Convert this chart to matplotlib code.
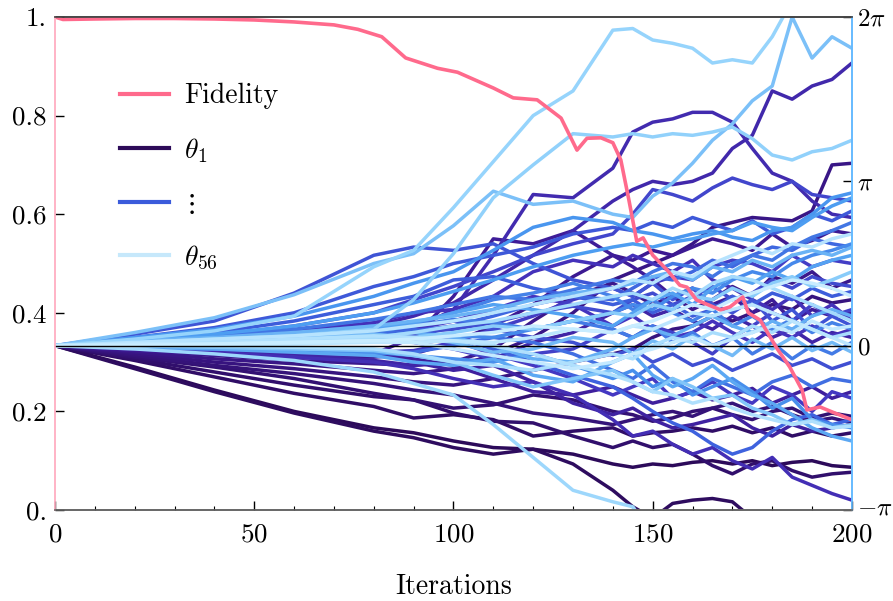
import numpy as np
import matplotlib
matplotlib.use("Agg")
import matplotlib.pyplot as plt
from matplotlib.colors import LinearSegmentedColormap
from matplotlib.lines import Line2D
from matplotlib.transforms import ScaledTranslation

plt.rcParams['font.family'] = 'serif'
plt.rcParams['font.serif'] = ['cmr10', 'DejaVu Serif']
plt.rcParams['mathtext.fontset'] = 'cm'
plt.rcParams['axes.unicode_minus'] = False
plt.rcParams['axes.formatter.use_mathtext'] = True

# fidelity curve (left axis)
fid_iter = [0, 2, 10, 20, 30, 40, 50, 60, 70, 76, 82, 88, 96, 101, 110, 115, 121, 127, 131, 133.5,
            137, 140, 142, 144, 146, 147.6, 150, 153.6, 156.8, 158.6, 161, 167, 169.4, 172.6, 174,
            177, 181, 184.4, 187.5, 188.7, 192, 195, 200]
fid = [1.0, 0.995, 0.996, 0.997, 0.997, 0.996, 0.994, 0.99, 0.984, 0.975, 0.96, 0.917, 0.896, 0.888,
       0.856, 0.836, 0.832, 0.795, 0.73, 0.754, 0.755, 0.745, 0.71, 0.63, 0.545, 0.552, 0.517, 0.487,
       0.456, 0.452, 0.426, 0.406, 0.412, 0.432, 0.40, 0.385, 0.33, 0.29, 0.243, 0.203, 0.209, 0.199, 0.183]

# parameters theta_k, read in units of pi (right axis)
iters = [0, 20, 40, 60, 80, 90, 100, 110, 120, 130, 140, 145, 150, 155, 160, 165, 170, 175, 180, 185, 190, 195, 200]
th01 = [0, -0.13, -0.27, -0.40, -0.50, -0.53, -0.58, -0.62, -0.63, -0.66, -0.72, -0.74, -0.72, -0.73, -0.71, -0.70, -0.72, -0.70, -0.73, -0.71, -0.70, -0.73, -0.74]
th02 = [0, -0.14, -0.28, -0.41, -0.52, -0.56, -0.62, -0.66, -0.63, -0.72, -0.88, -0.98, -1.05, -0.96, -0.94, -0.93, -0.95, -1.05, -1.1, -1.1, -1.1, -1.1, -1.1]
th03 = [0, -0.09, -0.19, -0.29, -0.37, -0.44, -0.42, -0.45, -0.55, -0.52, -0.50, -0.55, -0.53, -0.52, -0.50, -0.52, -0.49, -0.53, -0.50, -0.55, -0.52, -0.55, -0.53]
th04 = [0, -0.08, -0.16, -0.24, -0.31, -0.33, -0.41, -0.46, -0.47, -0.55, -0.62, -0.58, -0.62, -0.60, -0.66, -0.73, -0.78, -0.72, -0.70, -0.76, -0.80, -0.78, -0.77]
th05 = [0, -0.07, -0.13, -0.20, -0.29, -0.33, -0.38, -0.36, -0.30, -0.33, -0.40, -0.42, -0.46, -0.44, -0.40, -0.38, -0.42, -0.45, -0.40, -0.38, -0.44, -0.41, -0.43]
th06 = [0, -0.06, -0.12, -0.17, -0.23, -0.27, -0.30, -0.35, -0.41, -0.44, -0.48, -0.45, -0.42, -0.40, -0.43, -0.38, -0.35, -0.40, -0.37, -0.42, -0.46, -0.44, -0.47]
th07 = [0, -0.05, -0.10, -0.14, -0.19, -0.22, -0.24, -0.20, -0.15, -0.10, -0.05, -0.02, 0.05, 0.10, 0.12, 0.18, 0.15, 0.20, 0.25, 0.22, 0.30, 0.26, 0.28]
th08 = [0, -0.04, -0.08, -0.11, -0.15, -0.17, -0.14, -0.05, 0.05, 0.20, 0.40, 0.45, 0.50, 0.55, 0.62, 0.72, 0.75, 0.78, 0.77, 0.76, 0.82, 1.10, 1.11]
th09 = [0, -0.03, -0.06, -0.09, -0.11, -0.12, -0.10, -0.02, 0.15, 0.30, 0.38, 0.32, 0.25, 0.30, 0.22, 0.28, 0.36, 0.30, 0.42, 0.38, 0.45, 0.35, 0.40]
th10 = [0, -0.03, -0.05, -0.07, -0.07, -0.05, 0.02, 0.12, 0.25, 0.42, 0.55, 0.52, 0.58, 0.55, 0.60, 0.65, 0.62, 0.58, 0.68, 0.60, 0.64, 0.70, 0.68]
th11 = [0, -0.02, -0.03, -0.04, -0.05, 0.05, 0.30, 0.65, 0.62, 0.70, 0.55, 0.48, 0.40, 0.30, 0.35, 0.25, 0.30, 0.20, 0.28, 0.15, 0.22, 0.18, 0.20]
th12 = [0, -0.02, -0.04, -0.05, -0.05, -0.08, -0.12, -0.20, -0.28, -0.30, -0.25, -0.30, -0.35, -0.32, -0.28, -0.33, -0.30, -0.26, -0.35, -0.30, -0.25, -0.32, -0.28]
th13 = [0, -0.01, -0.02, -0.03, -0.04, -0.10, -0.15, -0.12, -0.22, -0.35, -0.42, -0.38, -0.45, -0.50, -0.48, -0.45, -0.42, -0.50, -0.55, -0.48, -0.52, -0.50, -0.48]
th14 = [0, -0.01, -0.03, -0.05, -0.09, -0.12, -0.10, -0.08, 0.02, 0.08, 0.20, 0.25, 0.18, 0.22, 0.15, 0.10, 0.18, 0.12, 0.05, 0.10, 0.02, 0.08, 0.05]
th15 = [0, 0.02, 0.05, 0.08, 0.12, 0.18, 0.26, 0.40, 0.55, 0.70, 0.88, 0.95, 1.00, 0.98, 1.00, 1.05, 1.20, 1.28, 1.55, 1.50, 1.58, 1.62, 1.72]
th16 = [0, 0.02, 0.04, 0.06, 0.08, 0.10, 0.22, 0.55, 0.92, 0.90, 1.08, 1.30, 1.36, 1.38, 1.42, 1.42, 1.36, 1.20, 1.05, 1.00, 0.88, 0.80, 0.78]
th17 = [0, -0.02, -0.04, -0.07, -0.10, -0.14, -0.20, -0.25, -0.22, -0.30, -0.45, -0.55, -0.52, -0.60, -0.66, -0.62, -0.70, -0.75, -0.68, -0.80, -0.85, -0.90, -0.94]
th18 = [0, 0.02, 0.05, 0.09, 0.14, 0.20, 0.22, 0.30, 0.45, 0.52, 0.48, 0.55, 0.50, 0.45, 0.52, 0.40, 0.35, 0.28, 0.22, 0.30, 0.18, 0.25, 0.15]
th19 = [0, 0.01, 0.03, 0.05, 0.08, 0.10, 0.15, 0.22, 0.30, 0.25, 0.12, 0.18, 0.10, 0.05, 0.08, 0.15, 0.08, 0.02, 0.10, 0.05, 0.12, 0.06, 0.10]
th20 = [0, 0.01, 0.02, 0.03, 0.05, 0.06, 0.03, -0.05, -0.12, -0.20, -0.30, -0.25, -0.20, -0.32, -0.28, -0.22, -0.30, -0.35, -0.25, -0.30, -0.40, -0.28, -0.32]
th21 = [0, -0.01, -0.02, -0.03, -0.04, -0.03, 0.02, 0.10, 0.18, 0.28, 0.35, 0.30, 0.38, 0.42, 0.40, 0.48, 0.52, 0.50, 0.45, 0.55, 0.48, 0.52, 0.50]
th22 = [0, 0.01, 0.02, 0.02, 0.03, 0.02, -0.02, -0.08, -0.05, -0.02, 0.10, 0.05, 0.12, 0.08, 0.02, -0.05, 0.05, 0.12, 0.20, 0.15, 0.25, 0.18, 0.22]
th23 = [0, 0.03, 0.06, 0.12, 0.20, 0.28, 0.36, 0.45, 0.55, 0.62, 0.68, 0.80, 0.95, 0.92, 0.88, 0.96, 1.02, 0.98, 0.95, 1.00, 0.92, 0.90, 0.88]
th24 = [0, 0.01, 0.03, 0.04, 0.06, 0.08, 0.10, 0.14, 0.20, 0.24, 0.20, 0.28, 0.32, 0.25, 0.30, 0.36, 0.28, 0.32, 0.40, 0.35, 0.42, 0.38, 0.36]
th25 = [0, 0.02, 0.04, 0.06, 0.09, 0.12, 0.15, 0.10, 0.05, 0.02, -0.06, -0.02, -0.10, -0.05, -0.12, -0.08, -0.15, -0.10, -0.05, -0.12, -0.08, -0.14, -0.10]
th26 = [0, 0.07, 0.15, 0.32, 0.55, 0.60, 0.58, 0.62, 0.50, 0.40, 0.35, 0.30, 0.38, 0.28, 0.35, 0.25, 0.20, 0.28, 0.15, 0.22, 0.10, 0.18, 0.12]
th27 = [0, 0.05, 0.11, 0.20, 0.36, 0.42, 0.50, 0.55, 0.60, 0.68, 0.72, 0.70, 0.75, 0.72, 0.78, 0.74, 0.70, 0.76, 0.68, 0.72, 0.80, 0.76, 0.82]
th28 = [0, 0.04, 0.08, 0.15, 0.25, 0.30, 0.40, 0.42, 0.35, 0.30, 0.25, 0.28, 0.20, 0.25, 0.18, 0.22, 0.30, 0.25, 0.32, 0.28, 0.35, 0.30, 0.33]
th29 = [0, 0.02, 0.05, 0.08, 0.12, 0.10, 0.05, -0.02, -0.10, -0.18, -0.25, -0.32, -0.40, -0.47, -0.52, -0.60, -0.66, -0.62, -0.52, -0.45, -0.42, -0.48, -0.45]
th30 = [0, 0.01, 0.02, 0.04, 0.07, 0.09, 0.12, 0.18, 0.25, 0.30, 0.28, 0.35, 0.42, 0.40, 0.45, 0.52, 0.48, 0.55, 0.60, 0.58, 0.65, 0.62, 0.60]
th31 = [0, -0.01, -0.02, -0.03, -0.05, -0.04, 0.00, 0.05, 0.02, -0.05, -0.15, -0.20, -0.12, -0.22, -0.28, -0.20, -0.25, -0.30, -0.22, -0.18, -0.25, -0.20, -0.22]
th32 = [0, 0.03, 0.06, 0.10, 0.16, 0.20, 0.25, 0.30, 0.28, 0.34, 0.40, 0.38, 0.45, 0.50, 0.48, 0.42, 0.50, 0.55, 0.52, 0.60, 0.66, 0.70, 0.75]
th33 = [0, 0.01, 0.03, 0.05, 0.08, 0.12, 0.16, 0.14, 0.10, 0.15, 0.10, 0.05, 0.12, 0.02, 0.08, 0.00, 0.05, -0.05, 0.02, -0.08, 0.00, -0.05, 0.02]
th34 = [0, 0.02, 0.04, 0.07, 0.10, 0.13, 0.20, 0.28, 0.32, 0.38, 0.30, 0.22, 0.28, 0.20, 0.15, 0.22, 0.12, 0.18, 0.10, 0.16, 0.08, 0.14, 0.10]
th35 = [0, 0.01, 0.01, 0.02, 0.03, 0.04, 0.06, 0.05, 0.10, 0.15, 0.20, 0.25, 0.22, 0.30, 0.35, 0.32, 0.40, 0.45, 0.42, 0.50, 0.55, 0.58, 0.62]
th36 = [0, 0.00, -0.01, -0.02, -0.04, -0.06, -0.08, -0.10, -0.05, -0.12, -0.20, -0.15, -0.25, -0.20, -0.30, -0.25, -0.20, -0.28, -0.38, -0.32, -0.45, -0.48, -0.50]
th37 = [0, 0.05, 0.10, 0.18, 0.30, 0.38, 0.45, 0.58, 0.72, 0.78, 0.75, 0.70, 0.68, 0.65, 0.68, 0.70, 0.66, 0.64, 0.70, 0.72, 0.80, 0.90, 0.93]
th38 = [0, 0.03, 0.07, 0.12, 0.20, 0.26, 0.33, 0.40, 0.48, 0.55, 0.60, 0.62, 0.60, 0.63, 0.65, 0.68, 0.70, 0.75, 0.72, 0.70, 0.78, 0.85, 0.90]
th39 = [0, 0.02, 0.04, 0.06, 0.10, 0.14, 0.20, 0.25, 0.22, 0.18, 0.12, 0.20, 0.28, 0.32, 0.25, 0.35, 0.42, 0.38, 0.45, 0.40, 0.48, 0.52, 0.55]
th40 = [0, -0.01, -0.02, -0.04, -0.06, -0.10, -0.12, -0.08, -0.18, -0.22, -0.10, -0.05, -0.18, -0.25, -0.20, -0.12, -0.22, -0.30, -0.35, -0.42, -0.50, -0.55, -0.58]
th41 = [0, 0.01, 0.02, 0.04, 0.05, 0.08, 0.05, 0.00, -0.08, -0.10, -0.02, 0.05, 0.10, 0.06, 0.12, 0.18, 0.12, 0.08, 0.15, 0.10, 0.18, 0.22, 0.18]
th42 = [0, 0.03, 0.05, 0.08, 0.12, 0.15, 0.18, 0.22, 0.28, 0.32, 0.35, 0.38, 0.42, 0.45, 0.40, 0.48, 0.45, 0.52, 0.48, 0.55, 0.58, 0.55, 0.60]
th43 = [0, 0.02, 0.03, 0.05, 0.07, 0.05, 0.02, -0.04, -0.02, 0.05, 0.02, -0.05, 0.03, -0.02, 0.06, 0.00, -0.06, 0.04, -0.02, 0.05, -0.03, 0.02, -0.04]
th44 = [0, 0.08, 0.17, 0.31, 0.50, 0.56, 0.73, 0.94, 0.86, 0.88, 0.80, 0.78, 0.91, 0.99, 1.11, 1.25, 1.35, 1.49, 1.58, 2.00, 1.75, 1.88, 1.81]
th45 = [0, 0.00, -0.01, -0.02, -0.03, -0.06, -0.10, -0.18, -0.25, -0.20, -0.15, -0.22, -0.28, -0.20, -0.25, -0.32, -0.30, -0.38, -0.42, -0.48, -0.45, -0.50, -0.48]
th46 = [0, 0.01, 0.02, 0.03, 0.04, 0.05, 0.08, 0.12, 0.10, 0.15, 0.20, 0.18, 0.25, 0.22, 0.30, 0.28, 0.35, 0.30, 0.38, 0.42, 0.36, 0.40, 0.45]
th47 = [0, 0.02, 0.04, 0.06, 0.10, 0.28, 0.56, 0.90, 1.10, 1.29, 1.27, 1.29, 1.27, 1.29, 1.28, 1.30, 1.33, 1.26, 1.16, 1.13, 1.18, 1.20, 1.25]
th48 = [0, 0.04, 0.09, 0.18, 0.48, 0.58, 0.84, 1.12, 1.40, 1.55, 1.92, 1.93, 1.86, 1.84, 1.81, 1.72, 1.74, 1.72, 1.88, 2.10, 2.20, 2.20, 2.20]
th49 = [0, -0.02, -0.05, -0.09, -0.16, -0.23, -0.30, -0.48, -0.68, -0.88, -0.95, -0.98, -1.15, -1.2, -1.2, -1.2, -1.2, -1.2, -1.2, -1.2, -1.2, -1.2, -1.2]
th50 = [0, 0.01, 0.02, 0.03, 0.05, 0.08, 0.12, 0.15, 0.20, 0.25, 0.30, 0.32, 0.28, 0.35, 0.30, 0.38, 0.42, 0.40, 0.35, 0.30, 0.25, 0.20, 0.15]
th51 = [0, 0.00, 0.00, -0.01, -0.02, -0.05, -0.10, -0.12, -0.15, -0.10, -0.05, -0.08, 0.00, 0.05, 0.02, 0.08, 0.05, 0.12, 0.08, 0.15, 0.10, 0.05, 0.08]
th52 = [0, 0.01, 0.02, 0.04, 0.06, 0.05, 0.03, 0.00, -0.05, -0.12, -0.18, -0.22, -0.28, -0.30, -0.35, -0.32, -0.38, -0.42, -0.45, -0.48, -0.46, -0.50, -0.49]
th53 = [0, 0.02, 0.04, 0.06, 0.09, 0.12, 0.15, 0.20, 0.25, 0.30, 0.35, 0.40, 0.38, 0.45, 0.42, 0.50, 0.55, 0.60, 0.56, 0.62, 0.60, 0.65, 0.68]
th54 = [0, 0.00, 0.01, 0.01, 0.02, 0.02, 0.03, 0.02, 0.05, 0.10, 0.08, 0.12, 0.10, 0.15, 0.20, 0.18, 0.22, 0.25, 0.20, 0.15, 0.10, 0.05, 0.00]
th55 = [0, 0.01, 0.01, 0.02, 0.03, 0.02, -0.02, -0.06, -0.10, -0.14, -0.10, -0.05, -0.02, 0.02, 0.05, 0.00, 0.04, 0.08, 0.12, 0.08, 0.15, 0.10, 0.12]
th56 = [0, 0.00, 0.01, 0.02, 0.03, 0.04, 0.06, 0.08, 0.12, 0.10, 0.08, 0.12, 0.15, 0.20, 0.25, 0.22, 0.28, 0.32, 0.36, 0.40, 0.38, 0.35, 0.30]

thetas = [th01, th02, th03, th04, th05, th06, th07, th08, th09, th10, th11, th12, th13, th14,
          th15, th16, th17, th18, th19, th20, th21, th22, th23, th24, th25, th26, th27, th28,
          th29, th30, th31, th32, th33, th34, th35, th36, th37, th38, th39, th40, th41, th42,
          th43, th44, th45, th46, th47, th48, th49, th50, th51, th52, th53, th54, th55, th56]

pink = '#ff6a8c'
cmap = LinearSegmentedColormap.from_list(
    'thetas', ['#2c0a5a', '#3d1a94', '#4535c0', '#3d5fdd', '#4a9af0', '#8fd0fb', '#c8ecff'])

fig = plt.figure(figsize=(8.93, 6.01), dpi=100)
ax = fig.add_axes([0.0616, 0.1514, 0.8924, 0.8203])
ax2 = ax.twinx()

n = len(thetas)
for k, th in enumerate(thetas):
    ax2.plot(iters, np.array(th) * np.pi, color=cmap(k / (n - 1)), lw=2.5,
             solid_joinstyle='round', solid_capstyle='round')
ax2.axhline(0, color='black', lw=1.0, zorder=5)

ax.plot(fid_iter, fid, color=pink, lw=2.6, solid_joinstyle='round')
ax.set_zorder(ax2.get_zorder() + 1)
ax.patch.set_visible(False)

ax.set_xlim(0, 200)
ax.set_ylim(0, 1)
ax2.set_ylim(-np.pi, 2 * np.pi)

ax.set_xticks([0, 50, 100, 150, 200])
ax.set_xticks(np.arange(0, 201, 10), minor=True)
ax.set_yticks([0, 0.2, 0.4, 0.6, 0.8, 1.0])
ax.set_yticklabels(['0.', '0.2', '0.4', '0.6', '0.8', '1.'])
ax2.set_yticks([-np.pi, 0, np.pi, 2 * np.pi])
ax2.set_yticklabels([r'$-\pi$', r'$0$', r'$\pi$', r'$2\pi$'])

ax.tick_params(axis='both', which='major', direction='in', length=6.5, width=1, labelsize=19.5, pad=6)
ax.tick_params(axis='x', which='major', pad=9)
ax.tick_params(axis='x', which='minor', direction='in', length=3.2, width=0.8)
ax.tick_params(axis='y', which='minor', left=False)
ax2.tick_params(axis='y', direction='in', length=6.5, width=1, labelsize=18, pad=4)

# lift the -pi label a little so it clears the "200" below it
low = ax2.get_yticklabels()[0]
low.set_transform(low.get_transform() + ScaledTranslation(0, 3 / 72, fig.dpi_scale_trans))

for a in (ax, ax2):
    a.spines['top'].set_color('#444444')
    a.spines['bottom'].set_color('#666666')
    a.spines['left'].set_color('#ffb3c6')
    a.spines['right'].set_color('#66bbff')
    for s in a.spines.values():
        s.set_linewidth(1.2)

ax.set_xlabel('Iterations', fontsize=20, labelpad=20)

handles = [Line2D([], [], color=pink, lw=3),
           Line2D([], [], color='#2d0b59', lw=3),
           Line2D([], [], color='#3b5bdb', lw=3),
           Line2D([], [], color='#c6e8fb', lw=3)]
labels = ['Fidelity', r'$\theta_1$', r'$\vdots$', r'$\theta_{56}$']
ax.legend(handles, labels, loc='upper left', bbox_to_anchor=(0.0816, 0.866), frameon=False,
          borderaxespad=0, borderpad=0, fontsize=20, handlelength=1.75, labelspacing=0.95,
          handletextpad=0.55)

fig.savefig('out.png', dpi=100)
